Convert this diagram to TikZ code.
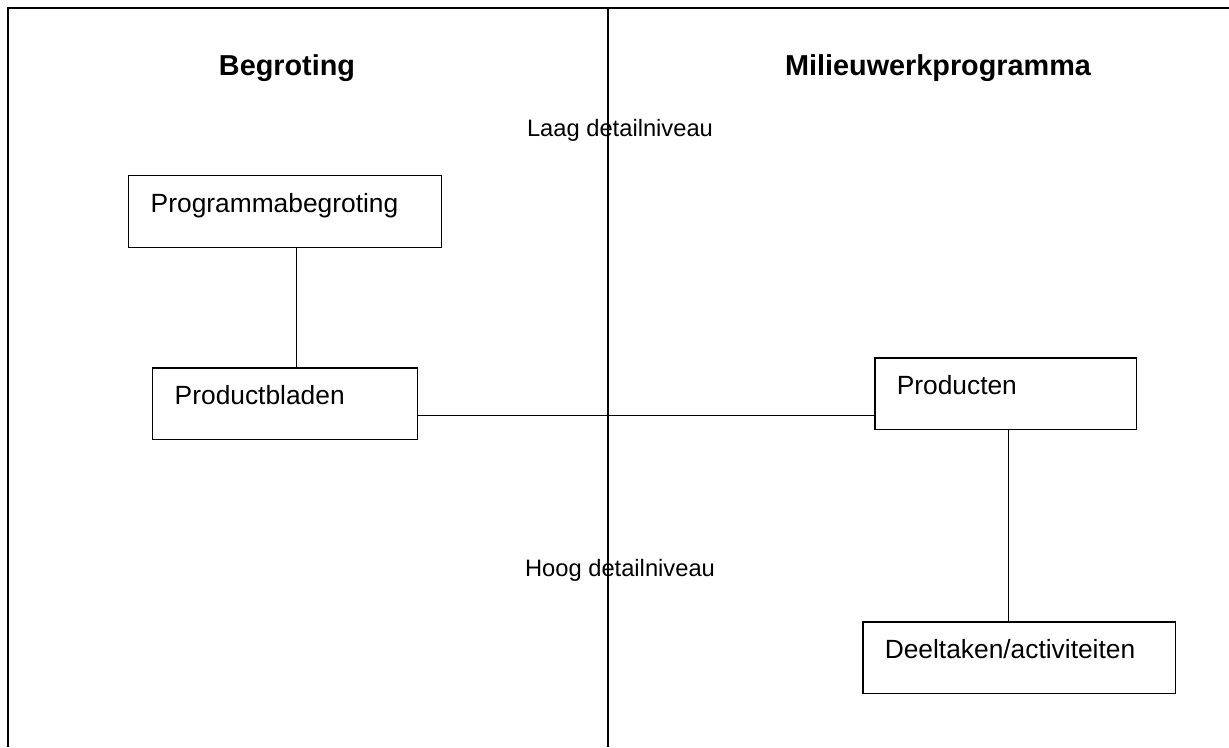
\documentclass[tikz,border=0pt]{standalone}
\usepackage{fontspec}
\setmainfont{Liberation Sans}
\begin{document}
\begin{tikzpicture}[x=0.02cm, y=-0.02cm,
        blok/.style={draw, line width=0.85pt, anchor=north west, align=left,
            inner xsep=0.44cm, inner ysep=0pt, text height=0.73cm, text depth=0.71cm,
            font=\fontsize{15}{18}\selectfont},
        kop/.style={anchor=base, font=\bfseries\fontsize{16.4}{19}\selectfont},
        niveau/.style={anchor=base, font=\fontsize{13.5}{16}\selectfont},
        lijn/.style={line width=0.85pt}]
        \useasboundingbox (0, 0) rectangle (1229, 747);
        \draw[line width=1.1pt] (1229, 8) -- (8, 8) -- (8, 747);
        \draw[line width=1.1pt] (608, 8) -- (608, 747);
        \node[kop] (begroting) at (287, 75) {Begroting};
        \node[kop] (mwp) at (938, 75) {Milieuwerkprogramma};
        \node[niveau] (laag) at (620, 136) {Laag detailniveau};
        \node[niveau] (hoog) at (620, 576) {Hoog detailniveau};
        \node[blok, text width=5.38cm] (progbeg) at (128, 175) {Programmabegroting};
        \node[blok, text width=4.42cm] (prodbl) at (152, 367) {Productbladen};
        \node[blok, text width=4.36cm] (prod) at (874, 357) {Producten};
        \node[blok, text width=5.38cm] (deel) at (862, 621) {Deeltaken/activiteiten};
        \draw[lijn] ([xshift=0.23cm]progbeg.south) -- ([xshift=0.23cm]progbeg.south |- prodbl.north);
        \draw[lijn] ([yshift=-0.24cm]prodbl.east) -- ([yshift=-0.24cm]prodbl.east -| prod.west);
        \draw[lijn] ([xshift=0.06cm]prod.south) -- ([xshift=0.06cm]prod.south |- deel.north);
    \end{tikzpicture}
\end{document}
